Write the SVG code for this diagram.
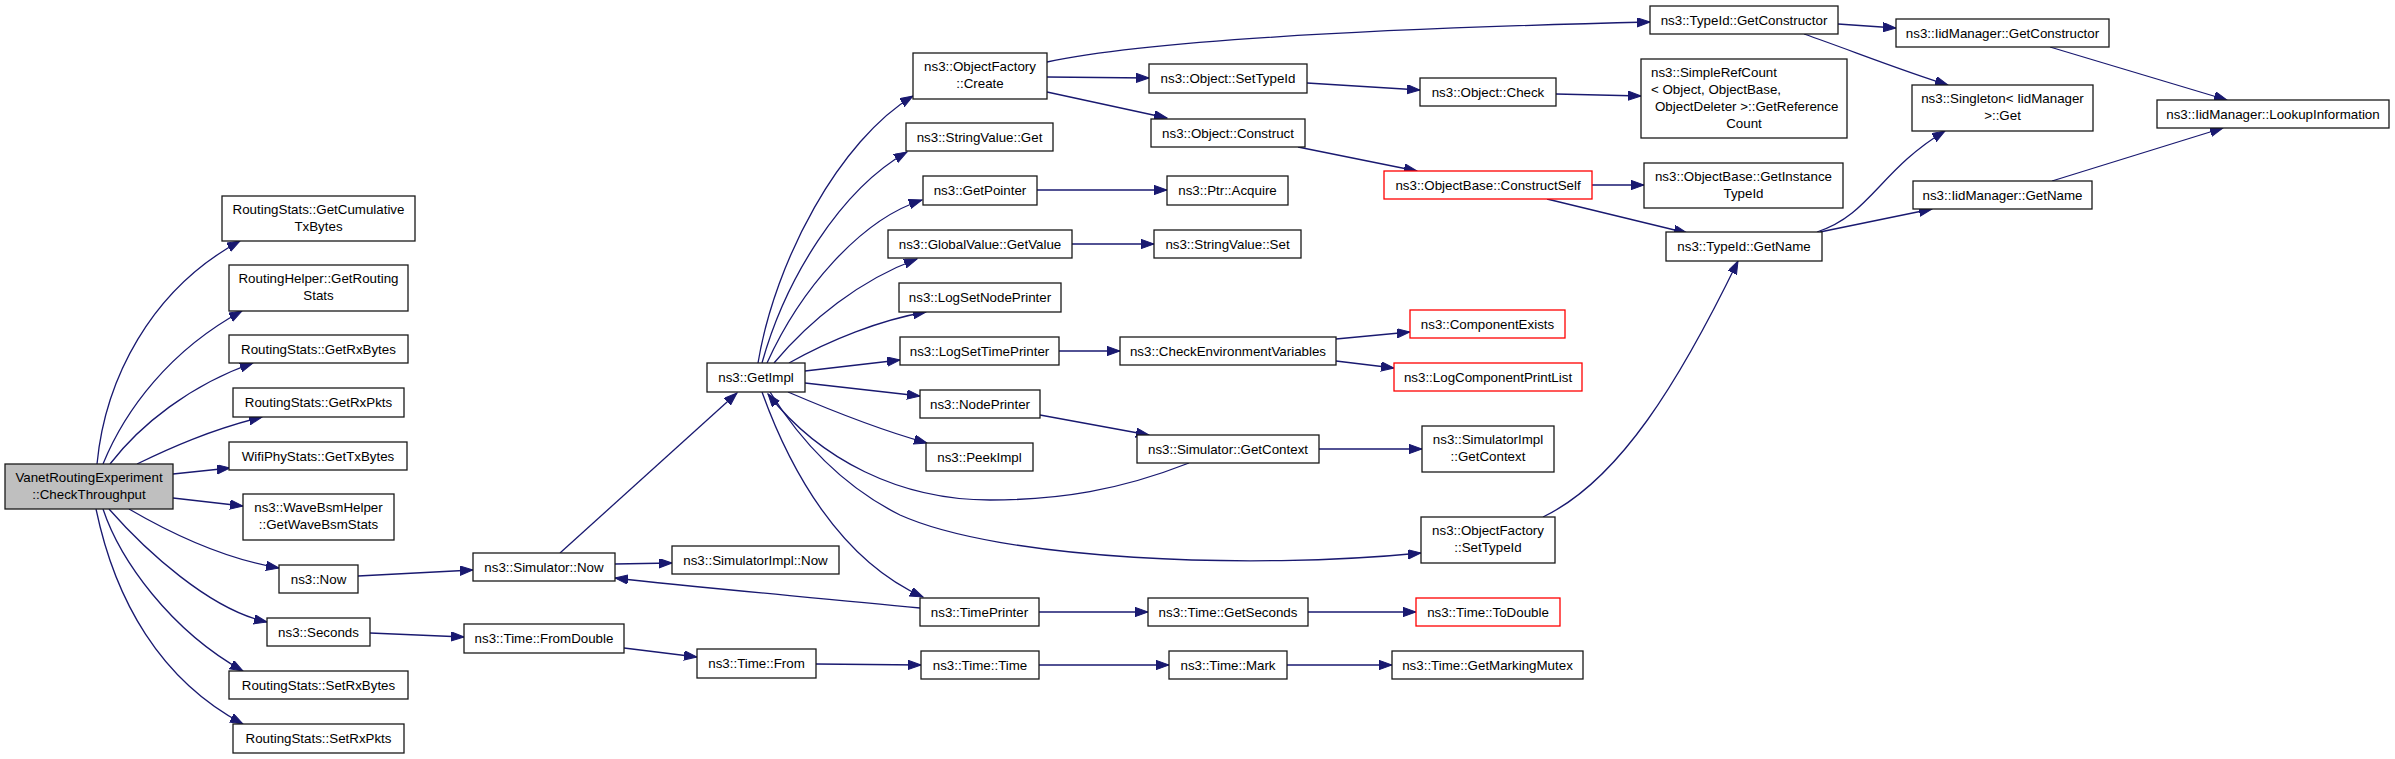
<svg xmlns="http://www.w3.org/2000/svg" width="2395" height="759" viewBox="0 0 2395 759">
<style>
.node rect{fill:#ffffff;stroke:#1a1a1a;stroke-width:1.3}
.node.red rect{stroke:#ff0000}
.node.root rect{fill:#bfbfbf}
.node text{font-family:"Liberation Sans",Arial,sans-serif;font-size:13.33px;text-anchor:middle;fill:#000}
.node text.l{text-anchor:start}
.edges path{fill:none;stroke:#191970;stroke-width:1.3;marker-end:url(#arr)}
</style>
<defs>
<marker id="arr" markerUnits="userSpaceOnUse" markerWidth="14" markerHeight="10" refX="13" refY="4.65" orient="auto">
<path d="M0,0 L13,4.65 L0,9.3 z" fill="#191970" stroke="#191970" stroke-width="1"/>
</marker>
</defs>
<rect x="0" y="0" width="2395" height="759" fill="#ffffff"/>
<g id="connectors" class="edges">
<path d="M97,464 C105,380 150,290 240,241"/>
<path d="M103,464 C125,410 170,350 242,311"/>
<path d="M110,464 C140,425 190,385 253,363"/>
<path d="M137,464 C170,448 210,430 262,417"/>
<path d="M173,474 L230,468"/>
<path d="M173,498 L243,506"/>
<path d="M129,509 C165,530 220,558 279,568"/>
<path d="M109,509 C145,550 210,610 267,622"/>
<path d="M103,509 C120,560 170,630 243,671"/>
<path d="M96,509 C115,600 160,680 243,724"/>
<path d="M358,576 L473,570"/>
<path d="M370,633 L464,637"/>
<path d="M560,553 L737,393"/>
<path d="M615,564 L672,563"/>
<path d="M920,608 C800,596 700,588 615,578"/>
<path d="M624,648 L697,657"/>
<path d="M816,664 L921,665"/>
<path d="M1039,665 L1169,665"/>
<path d="M1287,665 L1392,665"/>
<path d="M758,363 C775,260 840,140 913,96"/>
<path d="M762,363 C785,280 840,190 907,152"/>
<path d="M767,363 C800,290 860,220 922,200"/>
<path d="M774,363 C810,320 860,280 917,259"/>
<path d="M789,363 C830,340 880,320 926,312"/>
<path d="M805,371 L900,360"/>
<path d="M805,383 L920,396"/>
<path d="M788,392 C830,410 880,430 927,443"/>
<path d="M762,392 C790,470 840,560 923,597"/>
<path d="M1189,463 C1120,490 1060,500 990,500 C900,500 820,460 768,394"/>
<path d="M770,392 C800,440 840,485 900,515 C1000,560 1250,570 1421,553"/>
<path d="M1040,415 L1149,435"/>
<path d="M1047,62 C1150,40 1400,28 1650,22"/>
<path d="M1047,77 L1149,78"/>
<path d="M1047,92 L1167,118"/>
<path d="M1037,190 L1167,190"/>
<path d="M1072,244 L1154,244"/>
<path d="M1059,351 L1120,351"/>
<path d="M1336,339 L1410,332"/>
<path d="M1336,361 L1394,368"/>
<path d="M1319,449 L1422,449"/>
<path d="M1039,612 L1148,612"/>
<path d="M1308,612 L1416,612"/>
<path d="M1307,83 L1420,90"/>
<path d="M1298,147 L1417,171"/>
<path d="M1556,94 L1641,96"/>
<path d="M1592,185 L1644,185"/>
<path d="M1547,199 L1687,233"/>
<path d="M1543,517 C1620,480 1680,380 1738,261"/>
<path d="M1838,24 L1896,28"/>
<path d="M1804,34 C1850,50 1900,70 1948,85"/>
<path d="M1817,232 C1870,215 1880,170 1945,131"/>
<path d="M1820,232 L1932,209"/>
<path d="M2050,47 L2227,100"/>
<path d="M2052,181 L2223,128"/>
</g>
<g id="n_vanet" class="node root"><rect x="5" y="464" width="168" height="45"/><text x="89" y="481.5">VanetRoutingExperiment</text><text x="89" y="498.5">::CheckThroughput</text></g>
<g id="n_getcumtx" class="node"><rect x="222" y="196" width="193" height="45"/><text x="318.5" y="213.5">RoutingStats::GetCumulative</text><text x="318.5" y="230.5">TxBytes</text></g>
<g id="n_getroutingstats" class="node"><rect x="229" y="265" width="179" height="46"/><text x="318.5" y="283">RoutingHelper::GetRouting</text><text x="318.5" y="300">Stats</text></g>
<g id="n_getrxbytes" class="node"><rect x="229" y="335" width="179" height="28"/><text x="318.5" y="353.75">RoutingStats::GetRxBytes</text></g>
<g id="n_getrxpkts" class="node"><rect x="233" y="388" width="171" height="29"/><text x="318.5" y="407.25">RoutingStats::GetRxPkts</text></g>
<g id="n_gettxbytes" class="node"><rect x="229" y="442" width="178" height="28"/><text x="318" y="460.75">WifiPhyStats::GetTxBytes</text></g>
<g id="n_wavebsm" class="node"><rect x="243" y="494" width="151" height="46"/><text x="318.5" y="512">ns3::WaveBsmHelper</text><text x="318.5" y="529">::GetWaveBsmStats</text></g>
<g id="n_now" class="node"><rect x="279" y="565" width="79" height="28"/><text x="318.5" y="583.75">ns3::Now</text></g>
<g id="n_seconds" class="node"><rect x="267" y="618" width="103" height="28"/><text x="318.5" y="636.75">ns3::Seconds</text></g>
<g id="n_setrxbytes" class="node"><rect x="229" y="671" width="179" height="28"/><text x="318.5" y="689.75">RoutingStats::SetRxBytes</text></g>
<g id="n_setrxpkts" class="node"><rect x="233" y="724" width="171" height="29"/><text x="318.5" y="743.25">RoutingStats::SetRxPkts</text></g>
<g id="n_simnow" class="node"><rect x="473" y="553" width="142" height="28"/><text x="544" y="571.75">ns3::Simulator::Now</text></g>
<g id="n_fromdouble" class="node"><rect x="464" y="624" width="160" height="29"/><text x="544" y="643.25">ns3::Time::FromDouble</text></g>
<g id="n_getimpl" class="node"><rect x="707" y="363" width="98" height="29"/><text x="756" y="382.25">ns3::GetImpl</text></g>
<g id="n_simimplnow" class="node"><rect x="672" y="546" width="167" height="28"/><text x="755.5" y="564.75">ns3::SimulatorImpl::Now</text></g>
<g id="n_timefrom" class="node"><rect x="697" y="649" width="119" height="29"/><text x="756.5" y="668.25">ns3::Time::From</text></g>
<g id="n_ofcreate" class="node"><rect x="913" y="53" width="134" height="46"/><text x="980" y="71">ns3::ObjectFactory</text><text x="980" y="88">::Create</text></g>
<g id="n_strget" class="node"><rect x="906" y="123" width="147" height="28"/><text x="979.5" y="141.75">ns3::StringValue::Get</text></g>
<g id="n_getpointer" class="node"><rect x="923" y="176" width="114" height="29"/><text x="980" y="195.25">ns3::GetPointer</text></g>
<g id="n_gvgetvalue" class="node"><rect x="888" y="230" width="184" height="28"/><text x="980" y="248.75">ns3::GlobalValue::GetValue</text></g>
<g id="n_lognodeprinter" class="node"><rect x="899" y="283" width="162" height="29"/><text x="980" y="302.25">ns3::LogSetNodePrinter</text></g>
<g id="n_logtimeprinter" class="node"><rect x="900" y="337" width="159" height="28"/><text x="979.5" y="355.75">ns3::LogSetTimePrinter</text></g>
<g id="n_nodeprinter" class="node"><rect x="920" y="390" width="120" height="28"/><text x="980" y="408.75">ns3::NodePrinter</text></g>
<g id="n_peekimpl" class="node"><rect x="926" y="443" width="107" height="28"/><text x="979.5" y="461.75">ns3::PeekImpl</text></g>
<g id="n_timeprinter" class="node"><rect x="920" y="598" width="119" height="28"/><text x="979.5" y="616.75">ns3::TimePrinter</text></g>
<g id="n_timetime" class="node"><rect x="921" y="651" width="118" height="28"/><text x="980" y="669.75">ns3::Time::Time</text></g>
<g id="n_objsettypeid" class="node"><rect x="1149" y="64" width="158" height="29"/><text x="1228" y="83.25">ns3::Object::SetTypeId</text></g>
<g id="n_objconstruct" class="node"><rect x="1151" y="119" width="154" height="28"/><text x="1228" y="137.75">ns3::Object::Construct</text></g>
<g id="n_ptracquire" class="node"><rect x="1167" y="176" width="121" height="29"/><text x="1227.5" y="195.25">ns3::Ptr::Acquire</text></g>
<g id="n_strset" class="node"><rect x="1154" y="230" width="147" height="28"/><text x="1227.5" y="248.75">ns3::StringValue::Set</text></g>
<g id="n_checkenv" class="node"><rect x="1120" y="337" width="216" height="28"/><text x="1228" y="355.75">ns3::CheckEnvironmentVariables</text></g>
<g id="n_simgetcontext" class="node"><rect x="1137" y="435" width="182" height="28"/><text x="1228" y="453.75">ns3::Simulator::GetContext</text></g>
<g id="n_getseconds" class="node"><rect x="1148" y="598" width="160" height="28"/><text x="1228" y="616.75">ns3::Time::GetSeconds</text></g>
<g id="n_timemark" class="node"><rect x="1169" y="651" width="118" height="28"/><text x="1228" y="669.75">ns3::Time::Mark</text></g>
<g id="n_objcheck" class="node"><rect x="1420" y="78" width="136" height="28"/><text x="1488" y="96.75">ns3::Object::Check</text></g>
<g id="n_constructself" class="node red"><rect x="1384" y="171" width="208" height="28"/><text x="1488" y="189.75">ns3::ObjectBase::ConstructSelf</text></g>
<g id="n_compexists" class="node red"><rect x="1410" y="310" width="155" height="28"/><text x="1487.5" y="328.75">ns3::ComponentExists</text></g>
<g id="n_logcompprint" class="node red"><rect x="1394" y="363" width="188" height="28"/><text x="1488" y="381.75">ns3::LogComponentPrintList</text></g>
<g id="n_simimplgetcontext" class="node"><rect x="1422" y="426" width="132" height="46"/><text x="1488" y="444">ns3::SimulatorImpl</text><text x="1488" y="461">::GetContext</text></g>
<g id="n_ofsettypeid" class="node"><rect x="1421" y="517" width="134" height="46"/><text x="1488" y="535">ns3::ObjectFactory</text><text x="1488" y="552">::SetTypeId</text></g>
<g id="n_todouble" class="node red"><rect x="1416" y="598" width="144" height="28"/><text x="1488" y="616.75">ns3::Time::ToDouble</text></g>
<g id="n_markingmutex" class="node"><rect x="1392" y="651" width="191" height="28"/><text x="1487.5" y="669.75">ns3::Time::GetMarkingMutex</text></g>
<g id="n_tidgetctor" class="node"><rect x="1650" y="6" width="188" height="28"/><text x="1744" y="24.75">ns3::TypeId::GetConstructor</text></g>
<g id="n_simplerefcount" class="node"><rect x="1641" y="59" width="206" height="79"/><text class="l" x="1651" y="77">ns3::SimpleRefCount</text><text class="l" x="1651" y="94">&lt; Object, ObjectBase,</text><text class="l" x="1655" y="111">ObjectDeleter &gt;::GetReference</text><text x="1744" y="128">Count</text></g>
<g id="n_getinstancetypeid" class="node"><rect x="1644" y="163" width="199" height="45"/><text x="1743.5" y="180.5">ns3::ObjectBase::GetInstance</text><text x="1743.5" y="197.5">TypeId</text></g>
<g id="n_tidgetname" class="node"><rect x="1666" y="232" width="156" height="29"/><text x="1744" y="251.25">ns3::TypeId::GetName</text></g>
<g id="n_iidgetctor" class="node"><rect x="1896" y="19" width="213" height="28"/><text x="2002.5" y="37.75">ns3::IidManager::GetConstructor</text></g>
<g id="n_singletonget" class="node"><rect x="1912" y="85" width="181" height="46"/><text x="2002.5" y="103">ns3::Singleton&lt; IidManager</text><text x="2002.5" y="120">&gt;::Get</text></g>
<g id="n_iidgetname" class="node"><rect x="1913" y="181" width="179" height="28"/><text x="2002.5" y="199.75">ns3::IidManager::GetName</text></g>
<g id="n_lookupinfo" class="node"><rect x="2157" y="100" width="232" height="28"/><text x="2273" y="118.75">ns3::IidManager::LookupInformation</text></g>
</svg>
